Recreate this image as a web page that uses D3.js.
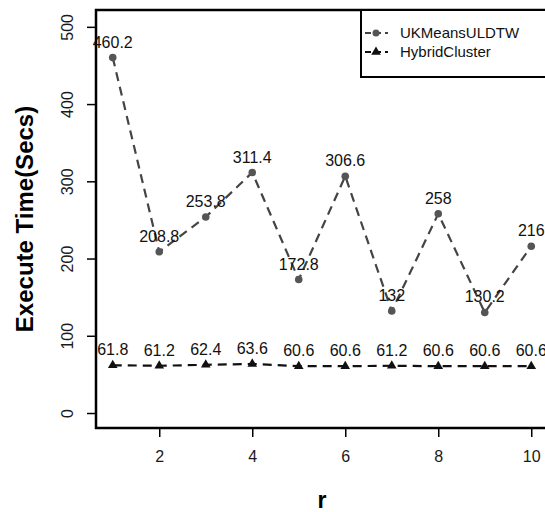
<!DOCTYPE html>
<html>
<head>
<meta charset="utf-8">
<script src="https://cdn.jsdelivr.net/npm/d3@7"></script>
<style>
  body { margin: 0; background: #fff; }
  text { font-family: "Liberation Sans", Arial, sans-serif; }
</style>
</head>
<body>
<script>
// chart data
var rValues = [1, 2, 3, 4, 5, 6, 7, 8, 9, 10];
var ukMeans = [460.2, 208.8, 253.8, 311.4, 172.8, 306.6, 132, 258, 130.2, 216];
var hybrid = [61.8, 61.2, 62.4, 63.6, 60.6, 60.6, 61.2, 60.6, 60.6, 60.6];
var xTicks = [2, 4, 6, 8, 10];
var yTicks = [0, 100, 200, 300, 400, 500];
var seriesNames = ["UKMeansULDTW", "HybridCluster"];

var W = 545, H = 512;
var svg = d3.select("body").append("svg").attr("width", W).attr("height", H);

var x = d3.scaleLinear().domain([0.64, 10.36]).range([96, 548]);
var y = d3.scaleLinear().domain([-19.4, 521.8]).range([428, 10]);

// axes (R style, outward ticks)
var yAxis = svg.append("g").attr("transform", "translate(" + x.range()[0] + ",0)")
    .call(d3.axisLeft(y).tickValues(yTicks).tickSize(9).tickPadding(4));
yAxis.select(".domain").remove();
yAxis.selectAll("line").attr("stroke", "#000").attr("stroke-width", 1.5);
yAxis.selectAll("text")
    .attr("transform", "translate(-29,0) rotate(-90)")
    .attr("x", 0).attr("y", 0).attr("dy", "0.35em")
    .attr("text-anchor", "middle")
    .style("font-size", "16px").attr("fill", "#1a1a1a");

var xAxis = svg.append("g").attr("transform", "translate(0," + y.range()[0] + ")")
    .call(d3.axisBottom(x).tickValues(xTicks).tickSize(9).tickPadding(14));
xAxis.select(".domain").remove();
xAxis.selectAll("line").attr("stroke", "#000").attr("stroke-width", 1.5);
xAxis.selectAll("text").style("font-size", "16px").attr("fill", "#1a1a1a");

// plot box
svg.append("rect")
    .attr("x", x.range()[0]).attr("y", y.range()[1])
    .attr("width", x.range()[1] - x.range()[0])
    .attr("height", y.range()[0] - y.range()[1])
    .attr("fill", "none").attr("stroke", "#000").attr("stroke-width", 2.5);

// titles
svg.append("text")
    .attr("transform", "translate(33," + ((y.range()[0] + y.range()[1]) / 2) + ") rotate(-90)")
    .attr("text-anchor", "middle")
    .style("font-size", "24px").style("font-weight", "bold")
    .text("Execute Time(Secs)");
svg.append("text")
    .attr("x", (x(1) + x(10)) / 2).attr("y", 508)
    .attr("text-anchor", "middle")
    .style("font-size", "23px").style("font-weight", "bold")
    .text("r");

var line = d3.line().x(function (d) { return x(d[0]); }).y(function (d) { return y(d[1]); });

// UKMeansULDTW
var ukData = rValues.map(function (r, i) { return [r, ukMeans[i]]; });
svg.append("path").datum(ukData).attr("d", line)
    .attr("fill", "none").attr("stroke", "#444").attr("stroke-width", 2.2)
    .attr("stroke-dasharray", "9,6");
svg.selectAll(".uk-pt").data(ukData).enter().append("circle")
    .attr("class", "uk-pt")
    .attr("cx", function (d) { return x(d[0]); })
    .attr("cy", function (d) { return y(d[1]); })
    .attr("r", 3.8).attr("fill", "#555");

// HybridCluster
var hyData = rValues.map(function (r, i) { return [r, hybrid[i]]; });
svg.append("path").datum(hyData).attr("d", line)
    .attr("fill", "none").attr("stroke", "#111").attr("stroke-width", 2.2)
    .attr("stroke-dasharray", "9,6");
var tri = d3.symbol().type(d3.symbolTriangle).size(40);
svg.selectAll(".hy-pt").data(hyData).enter().append("path")
    .attr("class", "hy-pt")
    .attr("transform", function (d) { return "translate(" + x(d[0]) + "," + y(d[1]) + ")"; })
    .attr("d", tri).attr("fill", "#111");

// value labels
var labelData = ukData.concat(hyData);
svg.selectAll(".lbl").data(labelData).enter().append("text")
    .attr("class", "lbl")
    .attr("x", function (d) { return x(d[0]); })
    .attr("y", function (d) { return y(d[1]) - 10; })
    .attr("text-anchor", "middle")
    .style("font-size", "16px").attr("fill", "#111")
    .text(function (d) { return d[1]; });

// legend
var lg = svg.append("g");
lg.append("rect").attr("x", 361).attr("y", 10).attr("width", 200).attr("height", 67)
    .attr("fill", "#fff").attr("stroke", "#000").attr("stroke-width", 2);
seriesNames.forEach(function (name, i) {
    var ly = 33 + i * 19;
    lg.append("line").attr("x1", 365).attr("x2", 388).attr("y1", ly).attr("y2", ly)
        .attr("stroke", i === 0 ? "#444" : "#111").attr("stroke-width", 2)
        .attr("stroke-dasharray", "6,4");
    if (i === 0) {
        lg.append("circle").attr("cx", 376).attr("cy", ly).attr("r", 3.5).attr("fill", "#555");
    } else {
        lg.append("path").attr("transform", "translate(376," + ly + ")").attr("d", tri).attr("fill", "#111");
    }
    lg.append("text").attr("x", 400).attr("y", ly + 5)
        .style("font-size", "15px").attr("fill", "#111").text(name);
});
</script>
</body>
</html>
